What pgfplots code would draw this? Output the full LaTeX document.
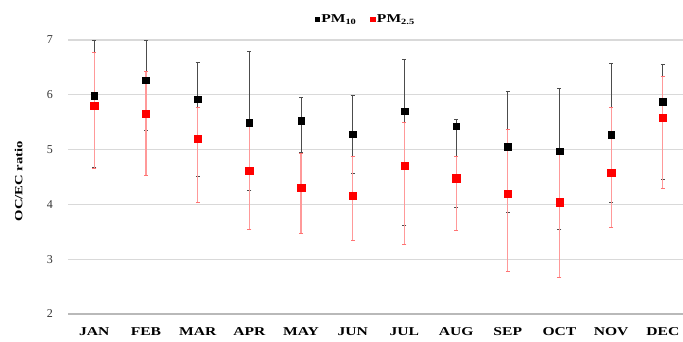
\documentclass[border=0pt]{standalone}
\usepackage{pgfplots}
\pgfplotsset{compat=1.18}
\usepackage{graphicx}
\usepackage{fontspec}
\setmainfont{Liberation Serif}
\newcommand\sx[1]{\scalebox{1.3}[1]{#1}}

\begin{document}
\begin{tikzpicture}
\path[use as bounding box] (0,0) rectangle (683pt,341pt);
\begin{axis}[
  at={(68.45pt,27pt)}, anchor=south west,
  scale only axis, width=614.55pt, height=274pt,
  xmin=-0.5, xmax=11.39, ymin=2, ymax=7,
  clip=false,
  xtick={0,...,11},
  xticklabels={\sx{JAN},\sx{FEB},\sx{MAR},\sx{APR},\sx{MAY},\sx{JUN},\sx{JUL},\sx{AUG},\sx{SEP},\sx{OCT},\sx{NOV},\sx{DEC}},
  ytick={2,3,4,5,6,7},
  /pgf/number format/assume math mode=true,
  axis x line=bottom, axis y line=left,
  x axis line style={draw=gray!55, line width=1.3pt, -},
  y axis line style={draw=none},
  major tick length=0pt,
  ymajorgrids, grid style={gray!30, line width=1.3pt},
  yticklabel style={font=\fontsize{12}{12}\selectfont, xshift=-12pt, text=black!80},
  xticklabel style={font=\bfseries\fontsize{12}{12}\selectfont, yshift=-10pt},
  ylabel={\scalebox{1.33}[1]{\textbf{OC/EC ratio}}},
  ylabel style={font=\fontsize{11}{11}\selectfont, at={(axis description cs:-0.081,0.485)}, anchor=center},
  legend style={at={(0.484,1.075)}, anchor=center, draw=none, fill=none,
    legend columns=2, font=\bfseries\fontsize{12}{12}\selectfont,
    /tikz/every even column/.append style={column sep=12pt},
    nodes={inner sep=2pt}},
  legend image code/.code={\draw[#1, mark size=2.2pt] plot coordinates {(0pt,0pt)};},
]
\addplot[only marks, mark=square*, mark size=3.3pt, black,
  error bars/.cd, y dir=both, y explicit,
  error bar style={black!70, line width=0.8pt},
  error mark options={rotate=90, mark size=2pt, black!70, line width=0.6pt}]
  table[x=x, y=y, y error plus=p, y error minus=m] {
x y p m
0 5.98 1.02 1.30
1 6.27 0.73 0.91
2 5.92 0.67 1.40
3 5.49 1.30 1.23
4 5.53 0.42 0.58
5 5.28 0.72 0.72
6 5.70 0.95 2.09
7 5.43 0.13 1.49
8 5.05 1.02 1.19
9 4.97 1.15 1.42
10 5.27 1.30 1.24
11 5.87 0.69 1.41
};
\addlegendentry{\sx{PM\textsubscript{10}}}
\addplot[only marks, mark=square*, mark size=3.7pt, red,
  error bars/.cd, y dir=both, y explicit,
  error bar style={red!40, line width=1.2pt},
  error mark options={rotate=90, mark size=2pt, red!55, line width=0.6pt}]
  table[x=x, y=y, y error plus=p, y error minus=m] {
x y p m
0 5.80 0.98 1.15
1 5.65 0.77 1.11
2 5.20 0.58 1.16
3 4.61 0.81 1.06
4 4.30 0.63 0.83
5 4.16 0.72 0.82
6 4.71 0.78 1.43
7 4.48 0.40 0.95
8 4.20 1.17 1.42
9 4.04 0.93 1.37
10 4.58 1.20 0.99
11 5.58 0.75 1.29
};
\addlegendentry{\sx{PM\textsubscript{2.5}}}
\end{axis}
\end{tikzpicture}
\end{document}
